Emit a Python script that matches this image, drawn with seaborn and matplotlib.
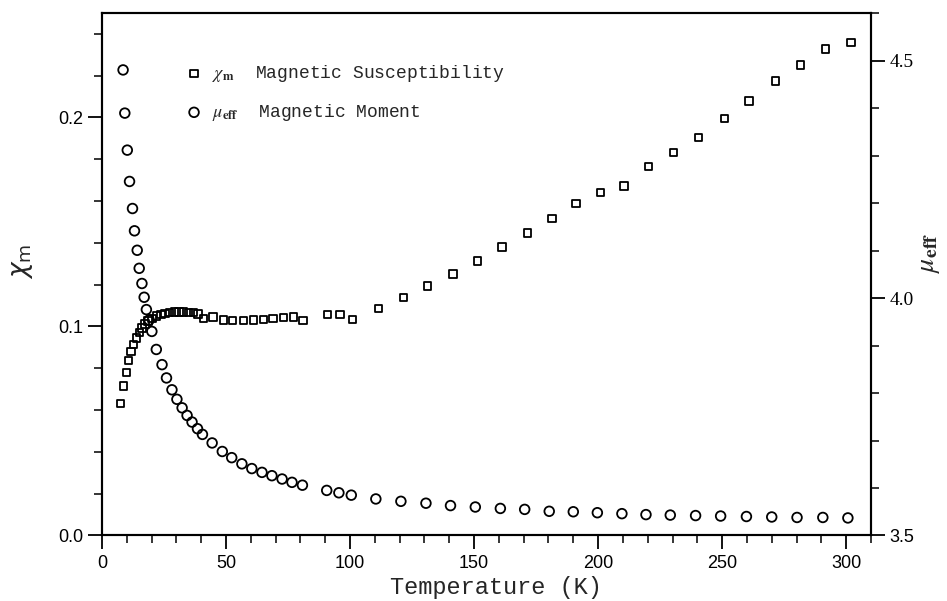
import matplotlib
matplotlib.use("Agg")
import matplotlib.pyplot as plt
import seaborn as sns
from matplotlib.ticker import MultipleLocator
from matplotlib.font_manager import FontProperties

# ---- data ----
sq_T = [7.4, 8.8, 9.8, 10.6, 11.7, 12.8, 13.9, 15.0, 16.1, 17.3, 18.6, 20.2, 22.0, 23.8, 25.4,
        27.2, 29.1, 31.1, 32.9, 34.9, 36.8, 38.7, 40.9, 44.7, 48.9, 52.6, 57.0, 61.0, 65.1, 68.9,
        73.2, 77.2, 81.1, 91.0, 96.0, 101.0, 111.5, 121.6, 131.1, 141.5, 151.4, 161.3, 171.6,
        181.4, 191.1, 201.0, 210.4, 220.2, 230.4, 240.5, 250.9, 260.8, 271.4, 281.6, 291.7, 301.9]
sq_chi = [0.0633, 0.0715, 0.0781, 0.0836, 0.0879, 0.0913, 0.0945, 0.0972, 0.0993, 0.1012, 0.1026,
          0.1039, 0.1050, 0.1058, 0.1063, 0.1066, 0.1069, 0.1069, 0.1069, 0.1068, 0.1066, 0.1060,
          0.1037, 0.1045, 0.1031, 0.1030, 0.1028, 0.1031, 0.1033, 0.1039, 0.1042, 0.1045, 0.1030,
          0.1056, 0.1058, 0.1034, 0.1087, 0.1140, 0.1194, 0.1251, 0.1313, 0.1380, 0.1447, 0.1516,
          0.1588, 0.1642, 0.1672, 0.1767, 0.1832, 0.1905, 0.1996, 0.2079, 0.2175, 0.2251, 0.2328,
          0.2360]

ci_T = [8.5, 9.2, 10.2, 11.1, 12.3, 13.1, 14.2, 15.0, 16.1, 17.0, 17.9, 19.0, 20.1, 21.9, 24.2,
        26.0, 28.2, 30.2, 32.3, 34.3, 36.3, 38.5, 40.5, 44.4, 48.5, 52.3, 56.4, 60.4, 64.5, 68.5,
        72.6, 76.6, 80.8, 90.6, 95.5, 100.5, 110.4, 120.5, 130.6, 140.5, 150.5, 160.6, 170.4,
        180.3, 190.0, 199.7, 209.6, 219.3, 229.1, 239.3, 249.4, 259.8, 270.0, 280.2, 290.6, 300.7]
ci_mu = [4.481, 4.390, 4.312, 4.246, 4.189, 4.142, 4.101, 4.063, 4.031, 4.002, 3.976, 3.954,
         3.930, 3.892, 3.860, 3.832, 3.807, 3.787, 3.769, 3.753, 3.739, 3.725, 3.713, 3.695,
         3.677, 3.664, 3.651, 3.641, 3.633, 3.626, 3.619, 3.612, 3.606, 3.595, 3.590, 3.585,
         3.577, 3.572, 3.568, 3.563, 3.560, 3.557, 3.555, 3.551, 3.550, 3.548, 3.546, 3.544,
         3.543, 3.542, 3.541, 3.540, 3.539, 3.538, 3.538, 3.537]

x_ticks = [0, 50, 100, 150, 200, 250, 300]
left_ticks = [0.0, 0.1, 0.2]
right_ticks = [3.5, 4.0, 4.5]

label_chi = r'$\chi_\mathbf{m}$  Magnetic Susceptibility'
label_mu = r'$\mu_{\mathbf{eff}}$  Magnetic Moment'

# ---- style ----
sns.set_style("ticks")
plt.rcParams['font.family'] = ['Liberation Sans', 'DejaVu Sans']

fig = plt.figure(figsize=(9.47, 6.01), dpi=100)
ax = fig.add_axes([0.1077, 0.109, 0.812, 0.8694])
ax2 = ax.twinx()

sns.scatterplot(x=sq_T, y=sq_chi, ax=ax, marker='s', s=28, facecolor='none',
                edgecolor='black', linewidth=1.3, label=label_chi, legend=False)
sns.scatterplot(x=ci_T, y=ci_mu, ax=ax2, marker='o', s=48, facecolor='none',
                edgecolor='black', linewidth=1.3, label=label_mu, legend=False)

ax.set_xlim(0, 310)
ax.set_ylim(0, 0.25)
ax2.set_ylim(3.5, 4.601)

ax.set_xticks(x_ticks)
ax.xaxis.set_minor_locator(MultipleLocator(10))
ax.set_yticks(left_ticks)
ax.set_yticklabels([f"{v:.1f}" for v in left_ticks])
ax.yaxis.set_minor_locator(MultipleLocator(0.02))
ax2.set_yticks(right_ticks)
ax2.set_yticklabels([f"{v:.1f}" for v in right_ticks])
ax2.yaxis.set_minor_locator(MultipleLocator(0.1))

for a in (ax, ax2):
    a.tick_params(which='major', direction='out', length=10, width=1.3, labelsize=13,
                  color='black', labelcolor='black')
    a.tick_params(which='minor', direction='out', length=6, width=1.1, color='black')
    for sp in a.spines.values():
        sp.set_linewidth(1.5)
        sp.set_color('black')
        sp.set_visible(True)
ax.tick_params(axis='x', which='major', pad=4)

ax.set_xlabel('Temperature (K)', family='Liberation Mono', fontsize=17)
ax.xaxis.set_label_coords(0.512, -0.078)
ax.set_ylabel(r'$\chi_\mathrm{m}$', fontsize=19)
ax.yaxis.set_label_coords(-0.087, 0.524)
ax2.set_ylabel(r'$\mu_{\mathbf{eff}}$', fontsize=20, math_fontfamily='stix')
ax2.yaxis.set_label_coords(1.058, 0.541)

h1, l1 = ax.get_legend_handles_labels()
h2, l2 = ax2.get_legend_handles_labels()
leg = ax.legend(h1 + h2, l1 + l2, loc='upper left', bbox_to_anchor=(185 / 947, 1 - 63 / 601),
                bbox_transform=fig.transFigure, frameon=False, borderpad=0, borderaxespad=0,
                handlelength=1.0, handletextpad=0.5, labelspacing=1.0,
                prop=FontProperties(family='Liberation Mono', size=13, math_fontfamily='stix'))

fig.canvas.draw()
for lbl in ax2.get_yticklabels():
    if lbl.get_text() in ('4.0', '4.5'):
        lbl.set_fontfamily('Liberation Serif')
        lbl.set_fontsize(14)

fig.savefig('out.png', dpi=100, facecolor='white')
